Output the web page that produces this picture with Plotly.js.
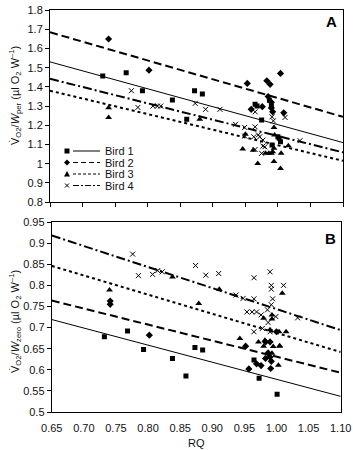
<!DOCTYPE html>
<html><head><meta charset="utf-8">
<script src="https://cdn.plot.ly/plotly-3.0.1.min.js"></script>
<style>html,body{margin:0;padding:0;background:#fff}#c{width:353px;height:450px}</style>
</head><body><div id="c"></div>
<script>
// ---- data ----
const fitX = [0.65, 1.10];
// Panel A regression lines (VO2/Wper)
const fitA_b1 = [1.53, 1.11];
const fitA_b2 = [1.684, 1.244];
const fitA_b3 = [1.38, 1.015];
const fitA_b4 = [1.442, 1.059];
// Panel B regression lines (VO2/Wzero)
const fitB_b1 = [0.719, 0.537];
const fitB_b2 = [0.764, 0.593];
const fitB_b3 = [0.846, 0.642];
const fitB_b4 = [0.918, 0.694];

// Panel A points
const a1x = [0.731,0.767,0.792,0.838,0.860,0.872,0.884,0.965,0.968,0.975,0.987,0.990,1.002,1.004,0.991,1.000];
const a1y = [1.456,1.473,1.380,1.331,1.232,1.380,1.363,1.310,1.300,1.227,1.330,1.300,1.132,1.114,1.097,1.140];
const a2x = [0.740,0.802,0.953,0.983,0.988,1.004,0.959,0.976,0.985,0.990,0.990,0.992,1.009];
const a2y = [1.649,1.487,1.418,1.432,1.413,1.470,1.283,1.297,1.350,1.320,1.290,1.270,1.265];
const a3x = [0.740,0.740,0.880,0.946,0.969,0.994,1.004,1.005,1.016,0.950,0.981,0.986,0.990,0.994,0.995,0.994,0.992,0.962];
const a3y = [1.291,1.241,1.232,1.076,1.001,1.012,0.975,1.054,1.093,1.154,1.054,1.054,1.054,1.189,1.150,1.080,1.062,1.070];
const a4x = [0.775,0.785,0.808,0.815,0.820,0.873,0.889,0.911,0.935,0.949,0.965,0.965,0.991,0.993,1.011,0.963,0.970,0.977,0.972,0.965,0.977,0.980,0.975,1.034,0.949];
const a4y = [1.380,1.293,1.300,1.300,1.300,1.314,1.283,1.283,1.205,1.189,1.192,1.270,1.244,1.223,1.241,1.140,1.150,1.123,1.140,1.074,1.092,1.088,1.054,1.120,1.144];

// Panel B points
const b1x = [0.732,0.768,0.793,0.838,0.873,0.885,0.859,0.973,1.001,0.965];
const b1y = [0.678,0.692,0.648,0.627,0.653,0.647,0.585,0.580,0.542,0.623];
const b2x = [0.741,0.741,0.802,0.957,0.952,0.969,0.976,0.983,0.991,0.983,0.987,0.990,1.000,0.990,0.992];
const b2y = [0.763,0.755,0.682,0.602,0.656,0.614,0.610,0.627,0.603,0.666,0.640,0.666,0.690,0.630,0.620];
const b3x = [0.740,0.838,0.879,0.911,1.009,0.943,0.972,0.980,0.993,0.993,0.993,1.004,1.015,1.005,1.003,0.990,0.982,0.980,0.995,1.005];
const b3y = [0.789,0.820,0.757,0.791,0.781,0.674,0.666,0.722,0.730,0.720,0.639,0.690,0.690,0.657,0.611,0.695,0.670,0.656,0.655,0.656];
const b4x = [0.776,0.785,0.807,0.815,0.822,0.874,0.890,0.910,0.965,0.990,0.992,0.992,1.011,0.994,0.937,0.948,0.965,0.954,0.962,0.969,0.976,0.987,0.965,0.978,0.990,0.999,1.033,0.992,0.986];
const b4y = [0.874,0.823,0.826,0.835,0.832,0.847,0.824,0.828,0.818,0.832,0.800,0.791,0.800,0.768,0.777,0.769,0.768,0.737,0.737,0.737,0.730,0.712,0.690,0.698,0.690,0.726,0.723,0.754,0.742];

const birdNames = ['Bird 1','Bird 2','Bird 3','Bird 4'];
const birdSymbols = ['square','diamond','triangle-up','x-thin'];
const birdSizes = [5,5.5,6,5];
const birdDash = ['solid','8px,4px','3px,3px','9px,3px,2px,3px'];
const birdWidth = [1,2,2,2];

const traces = [];
const ptsA = [[a1x,a1y],[a2x,a2y],[a3x,a3y],[a4x,a4y]];
const ptsB = [[b1x,b1y],[b2x,b2y],[b3x,b3y],[b4x,b4y]];
const fitsA = [fitA_b1,fitA_b2,fitA_b3,fitA_b4];
const fitsB = [fitB_b1,fitB_b2,fitB_b3,fitB_b4];

function mk(i){
  return {symbol:birdSymbols[i], size:birdSizes[i], color:'#000',
          line:{color:'#000', width: i===3?1:0}};
}
for(let i=0;i<4;i++){
  traces.push({x:fitX,y:fitsA[i],xaxis:'x',yaxis:'y',mode:'lines',showlegend:false,
    line:{color:'#000',width:birdWidth[i],dash:birdDash[i]},hoverinfo:'skip'});
  traces.push({x:fitX,y:fitsB[i],xaxis:'x2',yaxis:'y2',mode:'lines',showlegend:false,
    line:{color:'#000',width:birdWidth[i],dash:birdDash[i]},hoverinfo:'skip'});
  traces.push({x:ptsA[i][0],y:ptsA[i][1],xaxis:'x',yaxis:'y',mode:'markers',showlegend:false,marker:mk(i)});
  traces.push({x:ptsB[i][0],y:ptsB[i][1],xaxis:'x2',yaxis:'y2',mode:'markers',showlegend:false,marker:mk(i)});
}

const W=353,H=450,ML=50,MR=10,MT=10,MB=38;
const PW=W-ML-MR, PH=H-MT-MB;
const px = v => (v-ML)/PW;           // pixel -> paper x
const py = v => (H-MB-v)/PH;         // pixel -> paper y

const fnt = {family:'Liberation Sans, Arial, sans-serif', size:11, color:'#111'};
const axBase = {showline:true, mirror:true, linecolor:'#000', linewidth:1, showgrid:false,
  zeroline:false, ticks:'outside', ticklen:4, tickcolor:'#000', tickfont:fnt};

// manual legend (compact rows like the reference)
const shapes=[], annotations=[];
const legRowY=[151,162.5,174,185.5];
const shDash=['solid','dash','dot','dashdot'];
for(let i=0;i<4;i++){
  const yy=legRowY[i], mx=67;
  shapes.push({type:'line',xref:'paper',yref:'paper',x0:px(73),x1:px(100),y0:py(yy),y1:py(yy),
    line:{color:'#000',width:1,dash:i===0?'solid':(i===1?'5px,3px':(i===2?'3px,2px':'6px,2px,2px,2px'))}});
  if(i===0){
    shapes.push({type:'rect',xref:'paper',yref:'paper',x0:px(mx-2.5),x1:px(mx+2.5),y0:py(yy-2.5),y1:py(yy+2.5),
      fillcolor:'#000',line:{width:0}});
  } else if(i===1){
    shapes.push({type:'path',xref:'paper',yref:'paper',
      path:`M${px(mx)},${py(yy-3)} L${px(mx+3)},${py(yy)} L${px(mx)},${py(yy+3)} L${px(mx-3)},${py(yy)} Z`,
      fillcolor:'#000',line:{width:0}});
  } else if(i===2){
    shapes.push({type:'path',xref:'paper',yref:'paper',
      path:`M${px(mx)},${py(yy-3)} L${px(mx+3)},${py(yy+2.5)} L${px(mx-3)},${py(yy+2.5)} Z`,
      fillcolor:'#000',line:{width:0}});
  } else {
    shapes.push({type:'line',xref:'paper',yref:'paper',x0:px(mx-2),x1:px(mx+2),y0:py(yy-2),y1:py(yy+2),line:{color:'#000',width:1}});
    shapes.push({type:'line',xref:'paper',yref:'paper',x0:px(mx-2),x1:px(mx+2),y0:py(yy+2),y1:py(yy-2),line:{color:'#000',width:1}});
  }
  annotations.push({text:birdNames[i],xref:'paper',yref:'paper',x:px(103),y:py(yy),xanchor:'left',yanchor:'middle',
    showarrow:false,font:fnt});
}
annotations.push(
  {text:'<b>A</b>',xref:'paper',yref:'paper',x:px(331),y:py(22),xanchor:'center',yanchor:'middle',showarrow:false,font:{family:'Liberation Sans, Arial, sans-serif',size:15,color:'#000'}},
  {text:'<b>B</b>',xref:'paper',yref:'paper',x:px(330),y:py(238),xanchor:'center',yanchor:'middle',showarrow:false,font:{family:'Liberation Sans, Arial, sans-serif',size:15,color:'#000'}},
  {text:'V̇<sub>O2</sub>/<i>W</i><sub>per</sub> (µl O<sub>2</sub> W<sup>–1</sup>)',xref:'paper',yref:'paper',
    x:px(15),y:py(96),xanchor:'center',yanchor:'middle',textangle:-90,showarrow:false,font:fnt},
  {text:'V̇<sub>O2</sub>/<i>W</i><sub>zero</sub> (µl O<sub>2</sub> W<sup>–1</sup>)',xref:'paper',yref:'paper',
    x:px(15),y:py(322),xanchor:'center',yanchor:'middle',textangle:-90,showarrow:false,font:fnt}
);

const layout = {
  width:W, height:H, margin:{l:ML,r:MR,t:MT,b:MB},
  paper_bgcolor:'#fff', plot_bgcolor:'#fff', font:fnt,
  showlegend:false,
  xaxis:Object.assign({},axBase,{domain:[0,1],range:[0.65,1.10],dtick:0.05,showticklabels:false,anchor:'y'}),
  yaxis:Object.assign({},axBase,{domain:[0.522,1],range:[0.8,1.8],dtick:0.1,anchor:'x'}),
  xaxis2:Object.assign({},axBase,{domain:[0.006,0.992],range:[0.65,1.10],dtick:0.05,tickformat:'.2f',
    tickcolor:'rgba(0,0,0,0)',ticklen:6,anchor:'y2',
    title:{text:'RQ',font:fnt,standoff:6}}),
  yaxis2:Object.assign({},axBase,{domain:[0,0.4726],range:[0.5,0.95],dtick:0.05,anchor:'x2'}),
  shapes:shapes,
  annotations:annotations
};
Plotly.newPlot('c', traces, layout, {staticPlot:true, displayModeBar:false});
</script></body></html>
